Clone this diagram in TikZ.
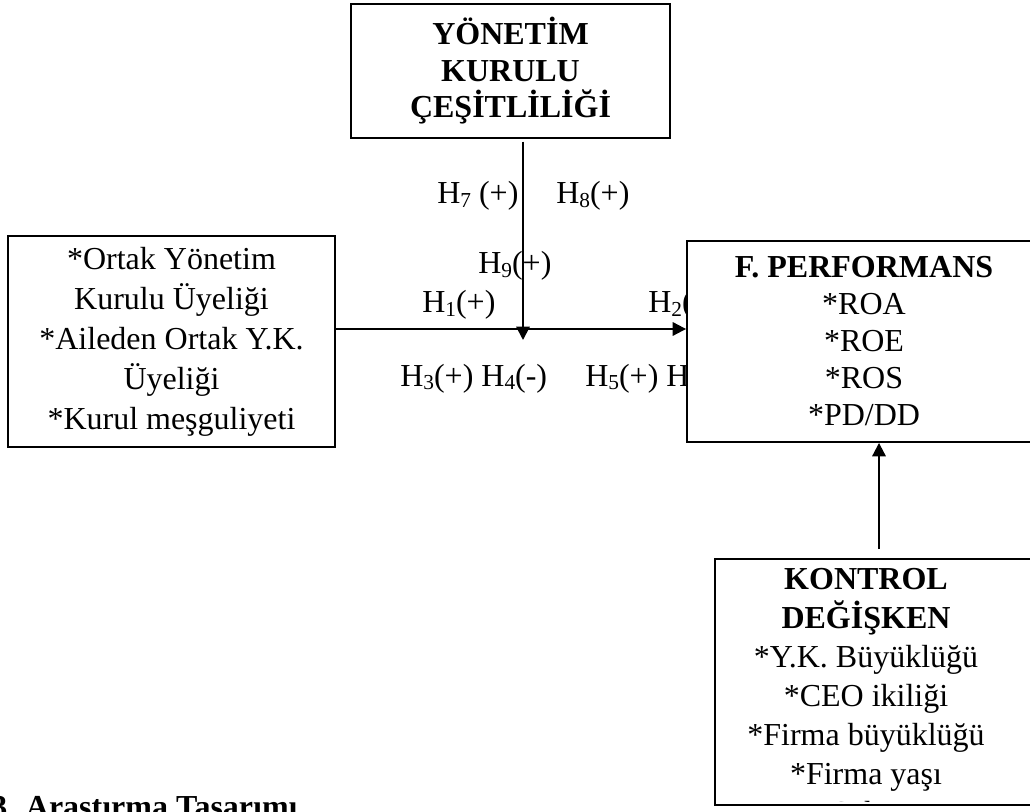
\documentclass[tikz,border=0pt]{standalone}
\usepackage{fontspec}
\setmainfont{Liberation Serif}
\usetikzlibrary{arrows.meta}
\newcommand{\hsub}[1]{\raisebox{-0.1em}{\fontsize{16}{16}\selectfont #1}}
\tikzset{
  boxnode/.style={draw=black, line width=1.4pt, fill=white, rectangle, inner sep=0pt, align=center},
  txt/.style={inner sep=0pt, align=center, font=\fontsize{24}{28}\selectfont},
  hlab/.style={inner sep=0pt, anchor=base west, font=\fontsize{24}{28}\selectfont},
  arr/.style={line width=1.5pt, -{Triangle[length=10pt,width=10pt]}},
}
\begin{document}
\begin{tikzpicture}[x=0.75pt,y=-0.75pt]
\useasboundingbox (0,0) rectangle (1030,812);
\fill[white] (0,0) rectangle (1030,812);

% hypothesis labels
\node[hlab] (h7) at (437,204) {H\hsub{7} (+)};
\node[hlab] (h8) at (556,204) {H\hsub{8}(+)};
\node[hlab] (h9) at (478,274) {H\hsub{9}(+)};
\node[hlab] (h1) at (422,313) {H\hsub{1}(+)};
\node[hlab] (h2) at (648,313) {H\hsub{2}(+)};
\node[hlab] (h34) at (400,386) {H\hsub{3}(+) H\hsub{4}(-)};
\node[hlab] (h56) at (585,386) {H\hsub{5}(+) H\hsub{6}(-)};

% boxes
\node[boxnode, minimum width=239.25pt, minimum height=100.5pt, font=\bfseries\fontsize{24}{27.4}\selectfont] (top) at (510.5,71)
  {YÖNETİM\\KURULU\\ÇEŞİTLİLİĞİ};
\node[boxnode, minimum width=245.25pt, minimum height=158.25pt, font=\fontsize{24}{30}\selectfont] (left) at (171.5,341.5)
  {*Ortak Yönetim\\Kurulu Üyeliği\\*Aileden Ortak Y.K.\\Üyeliği\\*Kurul meşguliyeti};
\node[boxnode, minimum width=265.5pt, minimum height=150.75pt, font=\fontsize{24}{27.75}\selectfont] (perf) at (864,341.5)
  {\textbf{F. PERFORMANS}\\*ROA\\*ROE\\*ROS\\*PD/DD};
\node[boxnode, minimum width=300pt, minimum height=184.5pt] (kon) at (915,682) {};
\begin{scope}
\clip (715,559) rectangle (1030,801);
\node[txt, font=\fontsize{24}{29.25}\selectfont] (kontext) at (866,696)
  {\textbf{KONTROL}\\\textbf{DEĞİŞKEN}\\*Y.K. Büyüklüğü\\*CEO ikiliği\\*Firma büyüklüğü\\*Firma yaşı\\*Sektör};
\end{scope}

% connectors
\coordinate (vt) at (523,340);
\coordinate (hy) at (0,329);
\coordinate (ua) at (879,550);
\draw[arr] (left.east |- hy) -- (perf.west |- hy);
\draw[arr] ([yshift=-2pt]top.south -| vt) -- (vt);
\draw[arr, shorten <=6.75pt] (kon.north -| ua) -- (perf.south -| ua);

% bottom heading (cut by page edge)
\node[hlab, font=\bfseries\fontsize{24}{28}\selectfont] (head) at (-9,817) {3. Araştırma Tasarımı};
\end{tikzpicture}
\end{document}
